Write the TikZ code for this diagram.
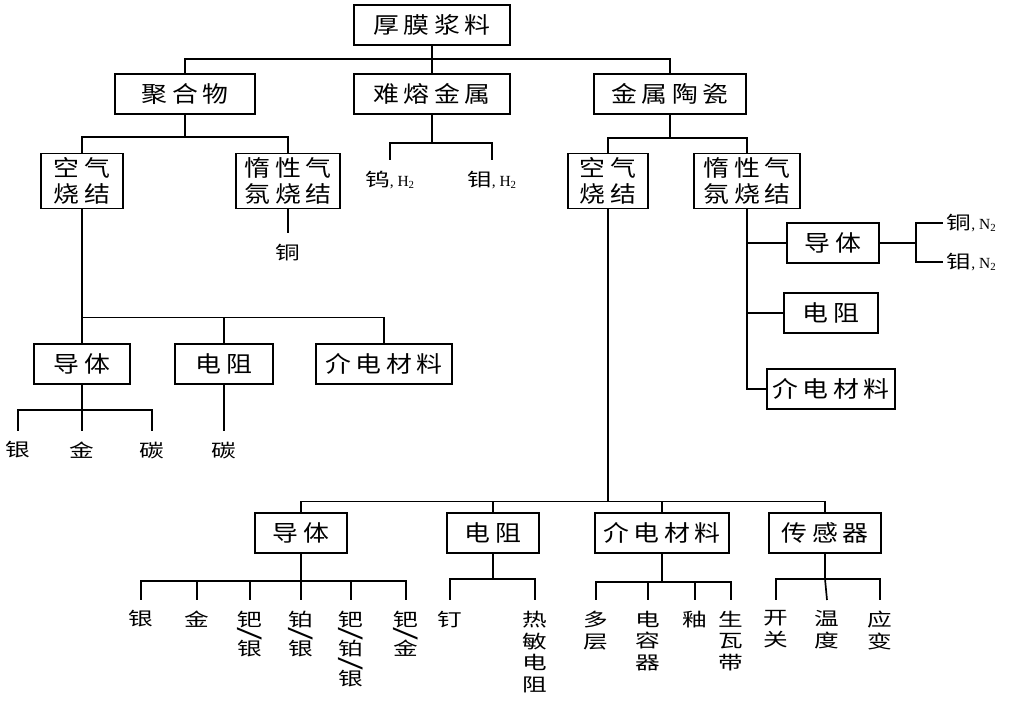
\documentclass[tikz,border=0pt]{standalone}
\usepackage{fontspec}
\usepackage{graphicx}
\setmainfont{Liberation Serif}
\newfontfamily\boxfont[LetterSpace=20,FakeStretch=1.15]{Noto Sans CJK SC}
\newfontfamily\leaffont[FakeStretch=1.35]{Noto Sans CJK SC}
\newcommand\latinpart{\rmfamily\fontsize{11}{13}\selectfont}
\newcommand\vsl{\\[-5pt]\rotatebox{90}{\fontsize{18}{18}\selectfont /}\\[-5pt]}
\begin{document}
\begin{tikzpicture}[x=0.025cm, y=-0.025cm, very thick,
    box/.style={draw, font=\boxfont\fontsize{16}{19}\selectfont, minimum height=1cm, inner sep=2pt},
    box2/.style={box, align=center, minimum height=1.375cm},
    leaf/.style={font=\leaffont\fontsize{13}{15.6}\selectfont, anchor=north, align=center, inner xsep=1pt, inner ysep=7pt}]
\useasboundingbox (0,0) rectangle (1020,709);
\node[box, minimum width=3.9cm] (hm) at (432,25) {厚膜浆料};
\node[box, minimum width=3.5cm] (jhw) at (185,94) {聚合物};
\node[box, minimum width=3.9cm] (nr) at (432,94) {难熔金属};
\node[box, minimum width=3.8cm] (jt) at (670,94) {金属陶瓷};
\draw (hm.south) -- ++(0,13) coordinate (b0);
\draw (b0) -| (jhw.north);
\draw (b0) -- (nr.north);
\draw (b0) -| (jt.north);

\node[box2, minimum width=2.05cm] (kqL) at (82,181) {空气\\烧结};
\node[box2, minimum width=2.6cm] (dxL) at (288,181) {惰性气\\氛烧结};
\draw (jhw.south) -- ++(0,22) coordinate (b1);
\draw (b1) -| (kqL.north);
\draw (b1) -| (dxL.north);
\node[leaf] (cuL) at (288,233) {铜};
\draw (dxL.south) -- (cuL.north);

\node[leaf] (w) at (390,160) {钨{\latinpart, H\textsubscript{2}}};
\node[leaf] (mo) at (492,160) {钼{\latinpart, H\textsubscript{2}}};
\draw (nr.south) -- ++(0,28) coordinate (b2);
\draw (b2) -| (w.north);
\draw (b2) -| (mo.north);

\node[box2, minimum width=2cm] (kqR) at (608,181) {空气\\烧结};
\node[box2, minimum width=2.65cm] (dxR) at (747,181) {惰性气\\氛烧结};
\draw (jt.south) -- ++(0,23) coordinate (b3);
\draw (b3) -| (kqR.north);
\draw (b3) -| (dxR.north);

\node[box, minimum width=2.4cm] (dtL) at (82,364) {导体};
\node[box, minimum width=2.45cm] (dzL) at (224,364) {电阻};
\node[box, minimum width=3.4cm] (jdL) at (384,364) {介电材料};
\draw (kqL.south) -- ++(0,108) coordinate (b4);
\draw (b4) -- (dtL.north);
\draw (b4) -| (dzL.north);
\draw (b4) -| (jdL.north);
\node[leaf] (agL) at (18,431) {银};
\node[leaf] (auL) at (82,431) {金};
\node[leaf] (cL) at (152,431) {碳};
\draw (dtL.south) -- ++(0,25) coordinate (b5);
\draw (b5) -| (agL.north);
\draw (b5) -- (auL.north);
\draw (b5) -| (cL.north);
\node[leaf] (cL2) at (224,431) {碳};
\draw (dzL.south) -- (cL2.north);

\node[box, minimum width=2.3cm] (dtR) at (833,243) {导体};
\node[box, minimum width=2.35cm] (dzR) at (831,313) {电阻};
\node[box, minimum width=3.2cm] (jdR) at (831,389) {介电材料};
\draw (dxR.south) |- (dtR.west);
\draw (dxR.south) |- (dzR.west);
\draw (dxR.south) |- (jdR.west);
\draw (dtR.east) -- ++(36,0) coordinate (b6);
\node[leaf, anchor=west, inner sep=2pt] (cuN) at (943,223) {铜{\latinpart, N\textsubscript{2}}};
\node[leaf, anchor=west, inner sep=2pt] (moN) at (943,262) {钼{\latinpart, N\textsubscript{2}}};
\draw (b6) |- (cuN.west);
\draw (b6) |- (moN.west);

\node[box, minimum width=2.3cm] (dtB) at (301,533) {导体};
\node[box, minimum width=2.3cm] (dzB) at (493,533) {电阻};
\node[box, minimum width=3.35cm] (jdB) at (662,533) {介电材料};
\node[box, minimum width=2.8cm] (cgB) at (825,533) {传感器};
\draw (kqR.south) -- ++(0,292) coordinate (b7);
\draw (b7) -| (dtB.north);
\draw (b7) -| (dzB.north);
\draw (b7) -| (jdB.north);
\draw (b7) -| (cgB.north);

\node[leaf] (ag1) at (141,600) {银};
\node[leaf] (au1) at (197,600) {金};
\node[leaf] (pdag) at (250,600) {钯\vsl 银};
\node[leaf] (ptag) at (301,600) {铂\vsl 银};
\node[leaf] (pdptag) at (351,600) {钯\vsl 铂\vsl 银};
\node[leaf] (pdau) at (406,600) {钯\vsl 金};
\draw (dtB.south) -- ++(0,27) coordinate (b8);
\draw (b8) -| (ag1.north);
\draw (b8) -| (au1.north);
\draw (b8) -| (pdag.north);
\draw (b8) -- (ptag.north);
\draw (b8) -| (pdptag.north);
\draw (b8) -| (pdau.north);

\node[leaf] (ru) at (450,600) {钉};
\node[leaf] (rmdz) at (535,600) {热\\敏\\电\\阻};
\draw (dzB.south) -- ++(0,25) coordinate (b9);
\draw (b9) -| (ru.north);
\draw (b9) -| (rmdz.north);

\node[leaf] (dc) at (596,600) {多\\层};
\node[leaf] (drq) at (648,600) {电\\容\\器};
\node[leaf] (you) at (695,600) {釉};
\node[leaf] (swd) at (731,600) {生\\瓦\\带};
\draw (jdB.south) -- ++(0,28) coordinate (b10);
\draw (b10) -| (dc.north);
\draw (b10) -| (drq.north);
\draw (b10) -| (you.north);
\draw (b10) -| (swd.north);

\node[leaf] (kg) at (776,600) {开\\关};
\node[leaf] (wd) at (827,600) {温\\度};
\node[leaf] (yb) at (880,600) {应\\变};
\draw (cgB.south) -- ++(0,25) coordinate (b11);
\draw (b11) -| (kg.north);
\draw (b11) -- (wd.north);
\draw (b11) -| (yb.north);
\end{tikzpicture}
\end{document}
